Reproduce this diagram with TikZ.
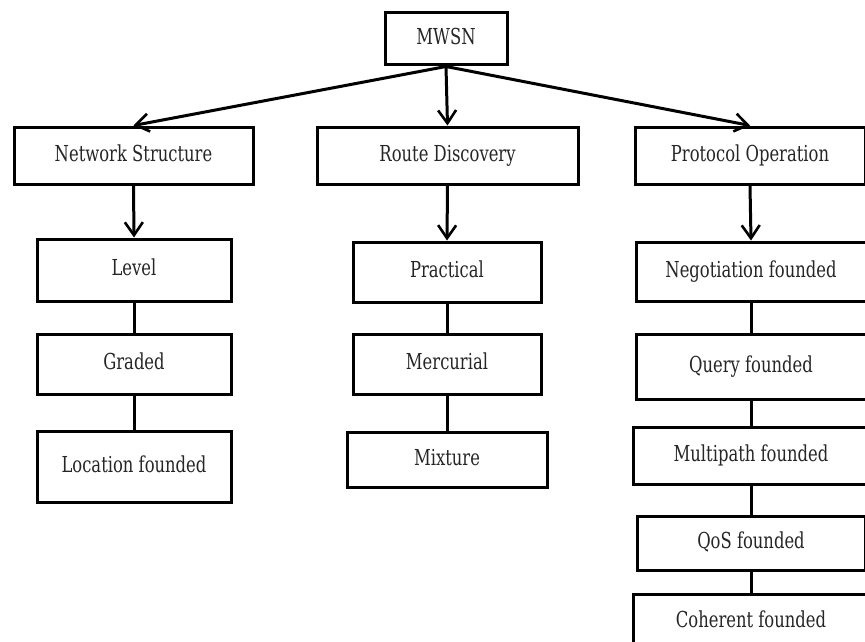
\documentclass[tikz,border=0pt]{standalone}
\usepackage{fontspec}
\setmainfont[FakeStretch=0.745]{DejaVu Serif}
\usetikzlibrary{arrows.meta}
\begin{document}
\begin{tikzpicture}[x=1pt,y=-1pt,
  box/.style={draw=black,line width=3pt,fill=white,inner sep=0pt,
    minimum width=#1,font=\fontsize{22}{24}\selectfont,text=black!85,
    text height=16pt,text depth=5pt},
  box/.default=194pt,
  arr/.style={line width=3pt,-{Straight Barb[length=13pt,width=18pt,line width=2.6pt]}},
  lnk/.style={line width=3pt}]
\useasboundingbox (0,0) rectangle (865,642);
\clip (0,0) rectangle (865,642);
% top
\node[box=122pt,minimum height=52pt] (mwsn) at (446,39) {MWSN};
\node[box=239pt,minimum height=57pt] (ns) at (133.5,155.5) {Network Structure};
\node[box=261pt,minimum height=57pt] (rd) at (447.5,155.5) {Route Discovery};
\node[box=230pt,minimum height=57pt] (po) at (750,155.5) {Protocol Operation};
% left column
\node[box=194pt,minimum height=62pt] (lev) at (134,270) {Level};
\node[box=194pt,minimum height=60pt] (gra) at (134,364) {Graded};
\node[box=194pt,minimum height=71pt] (loc) at (134,466.5) {Location founded};
% middle column
\node[box=188pt,minimum height=60pt] (pra) at (447,272) {Practical};
\node[box=188pt,minimum height=60pt] (mer) at (447,364) {Mercurial};
\node[box=200pt,minimum height=55pt] (mix) at (447,459.5) {Mixture};
% right column
\node[box=230pt,minimum height=59pt] (neg) at (751,271.5) {Negotiation founded};
\node[box=230pt,minimum height=65pt] (que) at (751,366.5) {Query founded};
\node[box=236pt,minimum height=57pt] (mul) at (751,455.5) {Multipath founded};
\node[box=228pt,minimum height=54pt] (qos) at (751,543) {QoS founded};
\node[box=236pt,minimum height=56pt] (coh) at (751,622) {Coherent founded};
% arrows
\draw[arr] (mwsn.south) -- (ns.north);
\draw[arr] (mwsn.south) -- (rd.north);
\draw[arr] (mwsn.south) -- (po.north);
\draw[arr] (ns.south) -- (lev.north);
\draw[arr] (rd.south) -- (pra.north);
\draw[arr] (po.south) -- (neg.north);
% links
\draw[lnk] (lev.south) -- (gra.north);
\draw[lnk] (gra.south) -- (loc.north);
\draw[lnk] (pra.south) -- (mer.north);
\draw[lnk] (mer.south) -- (mix.north);
\draw[lnk] (neg.south) -- (que.north);
\draw[lnk] (que.south) -- (mul.north);
\draw[lnk] (mul.south) -- (qos.north);
\draw[lnk] (qos.south) -- (coh.north);
\end{tikzpicture}
\end{document}
